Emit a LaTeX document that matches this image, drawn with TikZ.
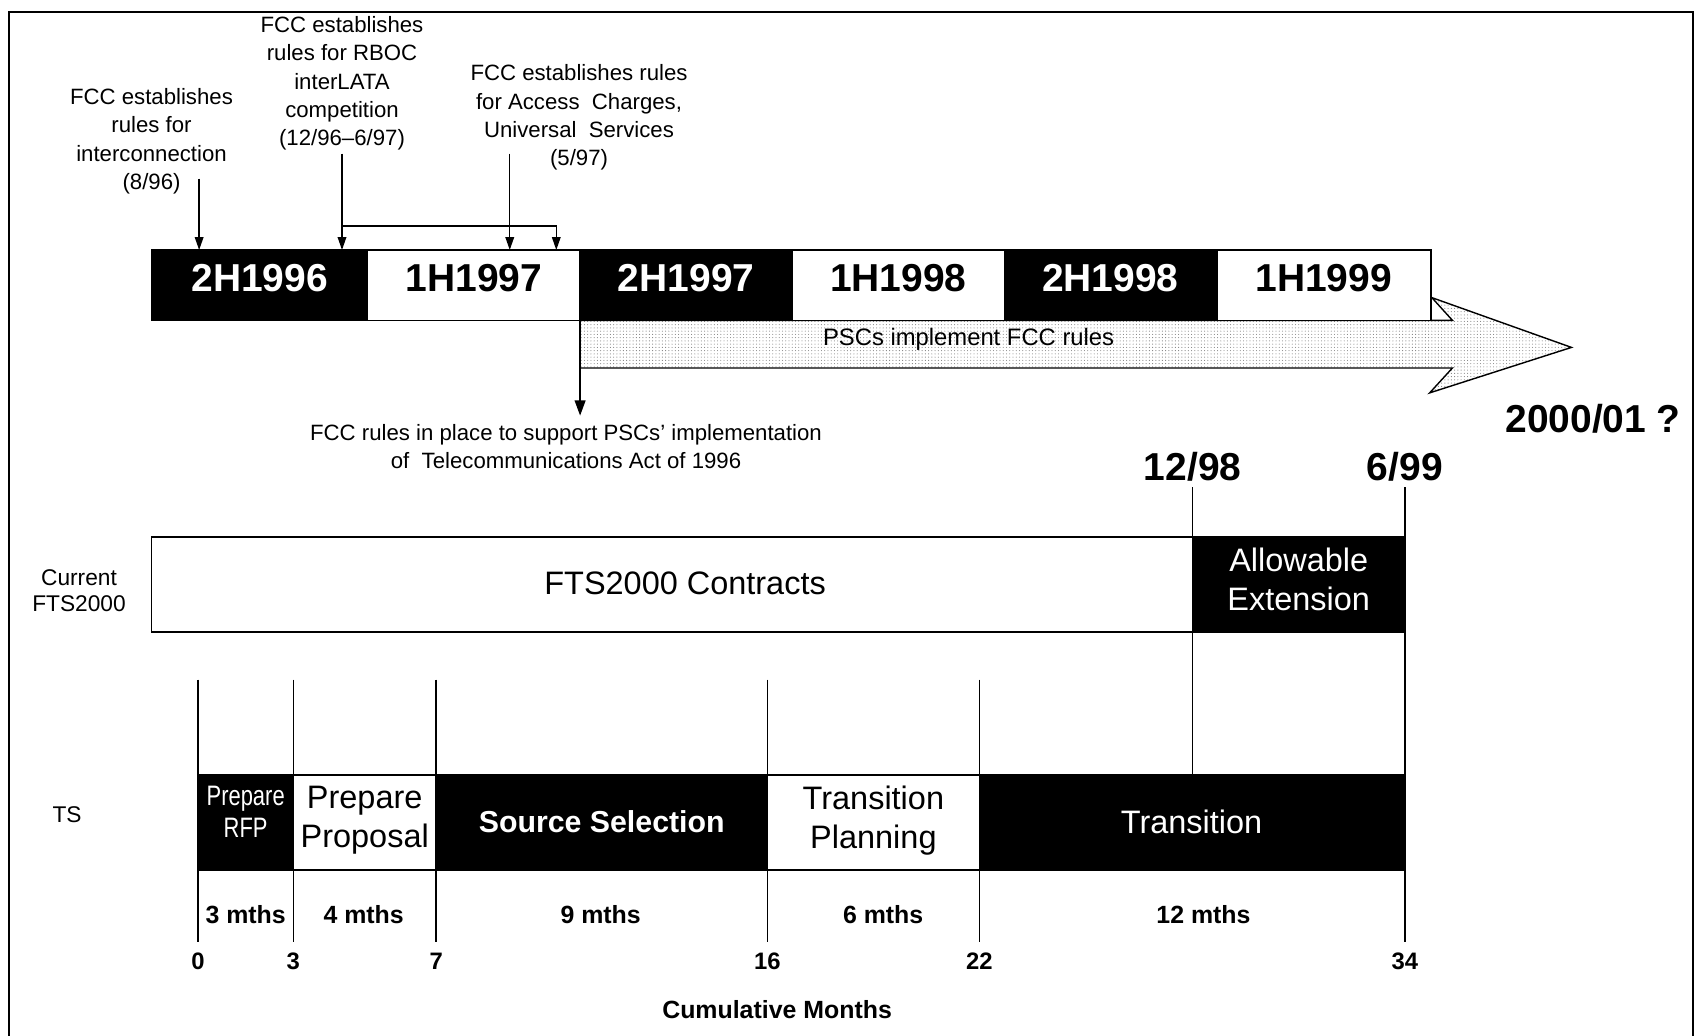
\documentclass[tikz,border=0pt]{standalone}
\usepackage{fontspec}
\setmainfont{Liberation Sans}
\newfontfamily\narrowfont[FakeStretch=0.78]{Liberation Sans}
\usetikzlibrary{arrows.meta,patterns}
\begin{document}
\begin{tikzpicture}[x=1pt,y=-1pt,
  every node/.style={inner sep=0pt,outer sep=0pt},
  vline/.style={line width=1.3pt},
  arr/.style={line width=1.3pt,-{Triangle[length=12pt,width=8pt]}},
  blkbox/.style={draw=black,line width=1.4pt,fill=black,text=white},
  whtbox/.style={draw=black,line width=1.4pt,fill=white,text=black},
  yearlbl/.style={font=\fontsize{36}{40}\selectfont\bfseries},
  annot/.style={align=center,font=\fontsize{20.5}{26}\selectfont},
  boxtxt/.style={align=center,font=\fontsize{30}{36}\selectfont},
  durlbl/.style={font=\fontsize{23}{26}\selectfont\bfseries},
  ticklbl/.style={font=\fontsize{22}{26}\selectfont\bfseries}
]
\useasboundingbox[fill=white] (0,0) rectangle (1568,957);
% frame
\draw[line width=1.6pt] (8,957) -- (8,11) -- (1564,11) -- (1564,957);

% big dotted arrow (behind the bar)
\path[fill=white,postaction={pattern=dots,pattern color=black!50}]
  (536,296) -- (1342,296) -- (1323,275) -- (1452,321) -- (1321,363) -- (1342,340) -- (536,340) -- cycle;
\draw[line width=1.3pt,line join=miter]
  (536,296) -- (1342,296) -- (1323,275) -- (1452,321) -- (1321,363) -- (1342,340) -- (536,340);
\node[font=\fontsize{22}{26}\selectfont] (psc) at (895,314) {PSCs implement FCC rules};

% half-year bar
\node[blkbox,minimum width=199pt,minimum height=65pt] (h1) at (239.5,263.5) {};
\node[whtbox,minimum width=197pt,minimum height=65pt] (h2) at (437.5,263.5) {};
\node[blkbox,minimum width=196pt,minimum height=65pt] (h3) at (634,263.5) {};
\node[whtbox,minimum width=196pt,minimum height=65pt] (h4) at (830,263.5) {};
\node[blkbox,minimum width=197pt,minimum height=65pt] (h5) at (1026.5,263.5) {};
\node[whtbox,minimum width=197pt,minimum height=65pt] (h6) at (1223.5,263.5) {};
\node[yearlbl,text=white] (h1l) at (240,257) {2H1996};
\node[yearlbl] (h2l) at (438,257) {1H1997};
\node[yearlbl,text=white] (h3l) at (634,257) {2H1997};
\node[yearlbl] (h4l) at (830,257) {1H1998};
\node[yearlbl,text=white] (h5l) at (1026,257) {2H1998};
\node[yearlbl] (h6l) at (1223,257) {1H1999};

% annotations above
\node[annot] (n1) at (140,130.5) {FCC establishes\\rules for\\interconnection\\(8/96)};
\node[annot] (n2) at (316,77) {FCC establishes\\rules for RBOC\\interLATA\\competition\\(12/96–6/97)};
\node[annot] (n3) at (535,108.5) {FCC establishes rules\\for Access\ \ Charges,\\Universal\ \ Services\\(5/97)};

\coordinate (a1s) at (184,165);
\coordinate (a2s) at (316,142);
\coordinate (a3s) at (471,142);
\coordinate (brk) at (514,209);
\draw[arr] (a1s) -- (a1s |- h1.north);
\draw[arr] (a2s) -- (a2s |- h2.north);
\draw[arr] (a3s) -- (a3s |- h2.north);
\draw[arr] (a2s |- brk) -- (brk) -- (brk |- h2.north);

% rules in place arrow
\coordinate (rip) at (536,384);
\draw[arr,-{Triangle[length=14pt,width=10pt]}] (h3.south west) -- (rip);
\node[annot] (ripl) at (523,413) {FCC rules in place to support PSCs’ implementation\\of\ \ Telecommunications Act of 1996};

% dates
\node[font=\fontsize{36}{40}\selectfont\bfseries] (d2000) at (1472,387) {2000/01 ?};
\node[font=\fontsize{36}{40}\selectfont\bfseries] (d1298) at (1102,431) {12/98};
\node[font=\fontsize{36}{40}\selectfont\bfseries] (d699) at (1298,431) {6/99};

% vertical lines
\coordinate (v1t) at (1102,450); \coordinate (v1b) at (1102,716);
\coordinate (v2t) at (1298,450); \coordinate (v2b) at (1298,870);
\draw[vline] (v1t) -- (v1b);
\draw[vline] (v2t) -- (v2b);
\foreach \x/\n in {183/a,271/b,403/c,709/d,905/e}{
  \coordinate (tt\n) at (\x,628);
  \coordinate (tb\n) at (\x,870);
  \draw[vline] (tt\n) -- (tb\n);
}

% current FTS2000 row
\node[align=center,font=\fontsize{21}{24}\selectfont] (cur) at (73,546) {Current\\FTS2000};
\node[whtbox,minimum width=962pt,minimum height=88pt] (fts) at (621,540) {};
\node[font=\fontsize{30}{36}\selectfont] (ftsl) at (633,539) {FTS2000 Contracts};
\node[blkbox,minimum width=196pt,minimum height=88pt] (ext) at (1200,540) {};
\node[boxtxt,text=white] (extl) at (1200,535) {Allowable\\Extension};

% TS row
\node[font=\fontsize{21}{24}\selectfont] (ts) at (62,753) {TS};
\node[blkbox,minimum width=88pt,minimum height=88pt] (rfp) at (227,760) {};
\node[align=center,text=white,font=\narrowfont\fontsize{26}{30}\selectfont] (rfpl) at (227,750) {Prepare\\RFP};
\node[whtbox,minimum width=132pt,minimum height=88pt] (prop) at (337,760) {};
\node[boxtxt] (propl) at (337,758) {Prepare\\Proposal};
\node[blkbox,minimum width=306pt,minimum height=88pt] (src) at (556,760) {};
\node[text=white,font=\fontsize{28}{32}\selectfont\bfseries] (srcl) at (556,759) {Source Selection};
\node[whtbox,minimum width=196pt,minimum height=88pt] (tpl) at (807,760) {};
\node[boxtxt] (tpll) at (807,758) {Transition\\Planning};
\node[blkbox,minimum width=393pt,minimum height=88pt] (tr) at (1101.5,760) {};
\node[text=white,font=\fontsize{30}{36}\selectfont] (trl) at (1101,759) {Transition};

% durations
\node[durlbl] (m3) at (227,845) {3 mths};
\node[durlbl] (m4) at (336,845) {4 mths};
\node[durlbl] (m9) at (555,845) {9 mths};
\node[durlbl] (m6) at (816,845) {6 mths};
\node[durlbl] (m12) at (1112,845) {12 mths};

% ticks
\node[ticklbl] (k0) at (183,888) {0};
\node[ticklbl] (k3) at (271,888) {3};
\node[ticklbl] (k7) at (403,888) {7};
\node[ticklbl] (k16) at (709,888) {16};
\node[ticklbl] (k22) at (905,888) {22};
\node[ticklbl] (k34) at (1298,888) {34};
\node[durlbl] (cm) at (718,933) {Cumulative Months};
\end{tikzpicture}
\end{document}
